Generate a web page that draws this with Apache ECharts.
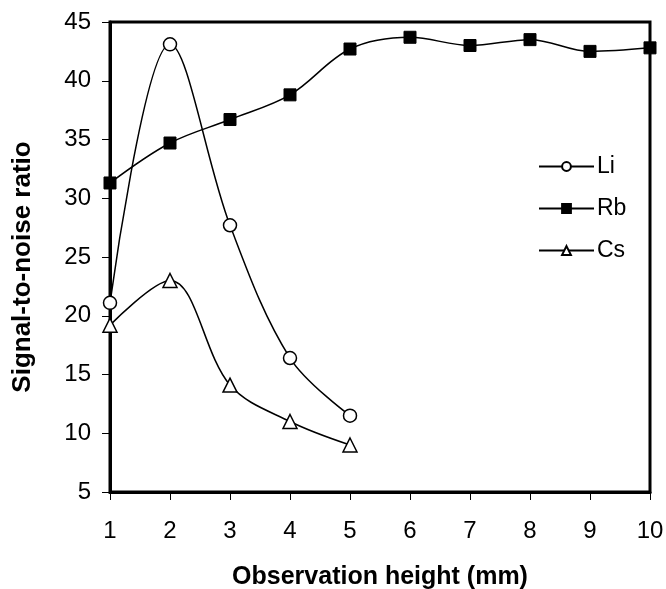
<!DOCTYPE html>
<html>
<head>
<meta charset="utf-8">
<script src="https://cdn.jsdelivr.net/npm/echarts@6/dist/echarts.min.js"></script>
<style>
  html, body { margin: 0; padding: 0; background: #fff; }
  #chart { width: 666px; height: 589px; }
</style>
</head>
<body>
<div id="chart"></div>
<script>
// observation heights (mm)
var heights = [1, 2, 3, 4, 5, 6, 7, 8, 9, 10];
// signal-to-noise ratio
var liValues = [21.1, 43.1, 27.7, 16.4, 11.5];
var rbValues = [31.3, 34.7, 36.7, 38.8, 42.7, 43.7, 43.0, 43.5, 42.5, 42.8];
var csValues = [19.2, 23.0, 14.1, 11.0, 9.0];

function pairs(vals) {
  return vals.map(function (v, i) { return [heights[i], v]; });
}

var font = 'Arial, "Liberation Sans", sans-serif';
var chart = echarts.init(document.getElementById('chart'));

var lineStyle = { color: '#000', width: 1.5 };

chart.setOption({
  animation: false,
  backgroundColor: '#fff',
  grid: {
    left: 110, right: 16, top: 22, bottom: 97,
    outerBoundsMode: 'none',
    show: true, borderColor: '#000', borderWidth: 3
  },
  legend: {
    orient: 'vertical',
    left: 533, top: 150,
    itemWidth: 55, itemHeight: 11, itemGap: 19,
    textStyle: { fontFamily: font, fontSize: 23, color: '#000', padding: [0, 0, 0, -2] },
    data: ['Li', 'Rb', 'Cs']
  },
  xAxis: {
    type: 'value', min: 1, max: 10, interval: 1,
    name: 'Observation height (mm)',
    nameLocation: 'middle', nameGap: 73,
    nameTextStyle: { fontFamily: font, fontSize: 25, fontWeight: 'bold', color: '#000' },
    axisLine: { lineStyle: { color: '#000', width: 3 } },
    axisTick: { lineStyle: { color: '#000', width: 1 }, length: 8 },
    axisLabel: { fontFamily: font, fontSize: 24, color: '#000', margin: 27 },
    splitLine: { show: false }
  },
  yAxis: {
    type: 'value', min: 5, max: 45, interval: 5,
    name: 'Signal-to-noise ratio',
    nameLocation: 'middle', nameGap: 74,
    nameTextStyle: { fontFamily: font, fontSize: 26, fontWeight: 'bold', color: '#000', padding: [0, 20, 0, 0] },
    axisLine: { show: true, lineStyle: { color: '#000', width: 3 } },
    axisTick: { show: true, lineStyle: { color: '#000', width: 1 }, length: 8 },
    axisLabel: { fontFamily: font, fontSize: 24, color: '#000', margin: 19 },
    splitLine: { show: false }
  },
  series: [
    {
      name: 'Li', type: 'line', smooth: 0.35,
      data: pairs(liValues),
      symbol: 'circle', symbolSize: 13,
      itemStyle: { color: '#fff', borderColor: '#000', borderWidth: 1.5 },
      lineStyle: lineStyle, z: 3
    },
    {
      name: 'Rb', type: 'line', smooth: 0.35,
      data: pairs(rbValues),
      symbol: 'rect', symbolSize: 12,
      itemStyle: { color: '#000', borderColor: '#000', borderWidth: 1 },
      lineStyle: lineStyle, z: 2
    },
    {
      name: 'Cs', type: 'line', smooth: 0.35,
      data: pairs(csValues),
      symbol: 'triangle', symbolSize: 14,
      itemStyle: { color: '#fff', borderColor: '#000', borderWidth: 1.5 },
      lineStyle: lineStyle, z: 3
    }
  ]
});
</script>
</body>
</html>
